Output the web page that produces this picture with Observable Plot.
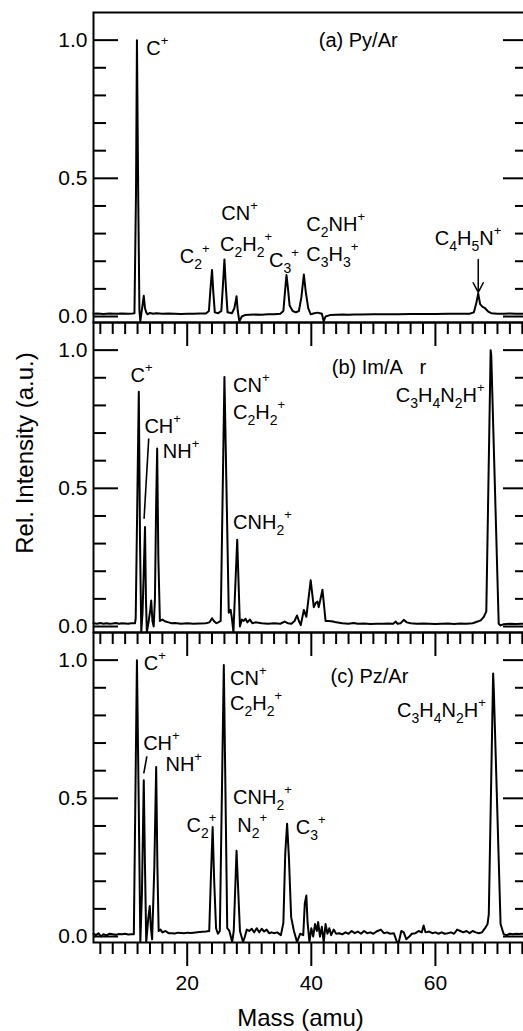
<!DOCTYPE html>
<html><head><meta charset="utf-8">
<script src="https://cdn.jsdelivr.net/npm/d3@7"></script>
<script src="https://cdn.jsdelivr.net/npm/@observablehq/plot@0.6"></script>
<style>
html,body{margin:0;padding:0;background:#fff;overflow:hidden;}
#wrap{position:relative;width:523px;height:1031px;overflow:hidden;font-family:"Liberation Sans",Arial,Helvetica,sans-serif;color:#000;}
.panel{position:absolute;left:0;}
.title{position:absolute;font-size:24px;line-height:24px;color:#000;white-space:nowrap;text-align:center;}
</style></head><body><div id="wrap"></div>
<script>
// ---- data: [mass (amu), relative intensity] ----
const spectrumA = [[4.9,0.010],[5.5,0.011],[6.5,0.009],[7.5,0.011],[8.5,0.010],[9.5,0.011],[10.5,0.010],[11.2,0.011],[11.5,0.012],[11.75,0.45],[11.9,1.00],[12.1,0.45],[12.3,0.02],[12.45,-0.017],[12.6,0.01],[12.8,0.04],[13.0,0.075],[13.2,0.03],[13.4,0.015],[13.6,0.008],[14.0,0.013],[14.5,0.010],[15.0,0.012],[16,0.010],[17,0.011],[18,0.010],[19,0.009],[20,0.010],[21,0.010],[22,0.011],[23,0.011],[23.5,0.02],[23.75,0.10],[24.0,0.168],[24.2,0.09],[24.45,0.015],[25.0,0.012],[25.5,0.02],[25.75,0.11],[26.0,0.206],[26.25,0.10],[26.5,0.015],[27.2,0.012],[27.6,0.03],[27.95,0.073],[28.15,0.02],[28.4,-0.017],[28.8,0.0],[29.3,0.005],[30,0.006],[31,0.007],[32,0.006],[33,0.008],[34,0.008],[35,0.010],[35.5,0.02],[35.8,0.10],[36.0,0.150],[36.2,0.11],[36.5,0.04],[37.0,0.02],[37.5,0.015],[38.0,0.02],[38.4,0.07],[38.8,0.152],[39.1,0.09],[39.5,0.03],[39.9,0.008],[40.5,0.012],[41.0,0.014],[41.4,0.012],[41.7,0.010],[42.0,-0.017],[42.3,0.0],[43,0.005],[44,0.006],[45,0.007],[46,0.006],[47,0.007],[48,0.007],[50,0.008],[52,0.008],[54,0.008],[56,0.009],[58,0.009],[60,0.009],[62,0.010],[64,0.010],[65.5,0.010],[66.2,0.015],[66.6,0.05],[66.9,0.083],[67.2,0.045],[67.6,0.035],[68.0,0.03],[68.5,0.018],[69,0.012],[70,0.010],[71,0.010],[72,0.011],[73,0.010],[74,0.010],[75,0.010]];

const spectrumB = [[4.9,0.012],[5.5,0.010],[6,0.013],[6.5,0.010],[7,0.012],[7.5,0.010],[8,0.011],[8.5,0.013],[9,0.010],[9.5,0.012],[10,0.011],[10.5,0.010],[11,0.012],[11.6,0.012],[11.7,0.03],[12.2,0.849],[12.4,0.30],[12.6,-0.02],[12.8,0.05],[13.0,0.20],[13.2,0.36],[13.35,0.10],[13.5,-0.02],[13.8,0.02],[14.05,0.06],[14.2,0.094],[14.4,0.02],[14.6,0.0],[14.8,0.10],[15.0,0.45],[15.16,0.644],[15.35,0.25],[15.6,0.02],[16.0,0.025],[16.5,0.018],[17,0.015],[17.5,0.012],[18,0.013],[19,0.010],[20,0.012],[21,0.010],[22,0.011],[23,0.012],[23.6,0.015],[24.0,0.03],[24.3,0.02],[24.7,0.012],[25.0,0.015],[25.4,0.02],[26.0,0.903],[26.7,0.05],[27.0,0.06],[27.2,0.03],[27.45,-0.02],[28.06,0.314],[28.5,0.0],[28.8,0.025],[29.1,0.02],[29.4,0.028],[29.7,0.015],[30.1,0.025],[30.5,0.012],[31,0.015],[32,0.012],[33,0.010],[34,0.012],[35,0.010],[35.7,0.018],[36.2,0.012],[36.8,0.010],[37.3,0.02],[37.7,0.04],[38.0,0.02],[38.3,0.005],[38.8,0.06],[39.2,0.035],[39.9,0.167],[40.4,0.07],[40.7,0.085],[41.0,0.09],[41.2,0.07],[41.8,0.133],[42.3,0.02],[42.8,0.02],[43.5,0.018],[44,0.015],[45,0.012],[46,0.010],[46.8,0.013],[47.5,0.010],[48.5,0.011],[49.5,0.009],[50.5,0.010],[51.5,0.010],[52.5,0.011],[53.2,0.010],[53.6,0.018],[53.9,0.010],[54.4,0.012],[54.9,0.024],[55.4,0.015],[56,0.012],[57,0.010],[58,0.011],[59,0.010],[60,0.009],[61,0.010],[62,0.011],[63,0.009],[64,0.011],[65,0.010],[66,0.012],[66.8,0.018],[67.3,0.022],[67.8,0.035],[68.2,0.055],[68.9,1.00],[69.0,0.98],[70.2,0.01],[70.5,0.004],[71,0.008],[72,0.010],[73,0.009],[74,0.010],[75,0.010]];

const spectrumC = [[4.9,0.010],[5.3,0.005],[5.7,0.012],[6.1,0.0],[6.5,0.008],[7.0,0.004],[7.5,0.010],[8,0.008],[8.5,0.006],[9,0.009],[9.5,0.008],[10,0.010],[10.5,0.007],[11,0.008],[11.4,0.008],[11.9,1.00],[12.2,0.46],[12.45,-0.02],[12.7,0.15],[13.0,0.565],[13.2,0.25],[13.4,-0.02],[13.7,0.06],[13.97,0.11],[14.15,0.03],[14.35,-0.01],[14.7,0.25],[15.0,0.613],[15.2,0.25],[15.4,0.02],[15.7,0.025],[16.0,0.015],[16.5,0.02],[17,0.012],[17.5,0.012],[18,0.011],[18.5,0.014],[19,0.013],[19.5,0.012],[20,0.014],[20.5,0.013],[21,0.014],[22,0.016],[23,0.018],[23.55,0.02],[23.8,0.2],[24.1,0.396],[24.35,0.2],[24.65,0.03],[24.95,0.01],[25.26,0.02],[25.9,0.982],[26.45,0.03],[26.8,0.02],[27.25,-0.02],[27.5,0.02],[27.95,0.31],[28.5,0.02],[29.0,-0.02],[29.3,0.0],[29.6,0.025],[30.0,0.02],[30.4,0.028],[30.8,0.015],[31.2,0.03],[31.6,0.015],[32.0,0.028],[32.4,0.018],[32.8,0.025],[33.2,0.012],[33.6,0.015],[34.0,0.012],[34.5,0.015],[35.1,0.005],[35.5,0.05],[35.8,0.30],[36.1,0.408],[36.4,0.28],[36.75,0.07],[37.2,0.02],[37.7,-0.02],[38.2,0.01],[38.7,0.005],[38.95,0.12],[39.2,0.148],[39.4,0.05],[39.7,-0.02],[40.0,0.03],[40.3,0.0],[40.6,0.045],[40.9,0.02],[41.1,0.052],[41.4,0.0],[41.7,0.035],[42.0,-0.02],[42.3,0.045],[42.6,0.01],[42.9,0.03],[43.2,0.005],[43.6,0.025],[44.0,0.01],[44.5,0.012],[45,0.008],[45.5,0.015],[46,0.010],[46.5,0.020],[47,0.012],[47.5,0.018],[48,0.010],[48.5,0.020],[49,0.012],[49.5,0.015],[50,0.010],[50.5,0.018],[51.2,0.025],[51.7,0.012],[52.2,0.015],[52.7,0.010],[53.3,0.012],[53.8,-0.02],[54.1,-0.02],[54.5,0.02],[54.9,0.015],[55.3,-0.01],[55.8,0.0],[56.2,0.010],[56.8,0.012],[57.3,0.020],[57.8,0.015],[58.1,0.040],[58.4,0.015],[59,0.018],[59.5,0.012],[60,0.015],[60.5,0.010],[61,0.015],[61.5,0.010],[62,0.012],[62.5,0.015],[63,0.010],[63.5,0.025],[64,0.020],[64.5,0.015],[65,0.020],[65.5,0.012],[66,0.020],[66.5,0.015],[67,0.012],[67.5,0.015],[68.0,0.03],[68.4,0.045],[68.6,0.08],[69.3,0.952],[69.4,0.90],[70.5,0.045],[71.0,0.008],[71.5,0.005],[72,0.010],[72.5,0.008],[73,0.010],[73.5,0.009],[74,0.010],[75,0.010]];

// ---- annotations: label text ( _x subscript, ^x superscript ), mass, intensity ----
const labelsA = [["C^+",13.4,0.946],["CN^+",25.5,0.35],["C_2H_2^+",25.3,0.236],["C_2^+",18.8,0.195],["C_3^+",33.2,0.18],["C_2NH^+",39.2,0.308],["C_3H_3^+",39.2,0.2],["C_4H_5N^+",59.9,0.26],["(a) Py/Ar",41.2,0.976]];
const labelsB = [["C^+",10.85,0.885],["CH^+",13.1,0.70],["NH^+",16.06,0.61],["CN^+",27.4,0.849],["C_2H_2^+",27.4,0.752],["CNH_2^+",27.4,0.354],["(b) Im/A\u00a0\u00a0\u00a0r",43.3,0.915],["C_3H_4N_2H^+",53.6,0.813]];
const labelsC = [["C^+",13.0,0.964],["CH^+",12.9,0.674],["NH^+",16.5,0.60],["CN^+",26.9,0.909],["C_2H_2^+",26.9,0.82],["CNH_2^+",27.4,0.48],["N_2^+",28.06,0.378],["C_2^+",19.9,0.378],["C_3^+",37.5,0.37],["(c) Pz/Ar",43.1,0.916],["C_3H_4N_2H^+",53.8,0.795]];

// leader lines [mass1, value1, mass2, value2]
const leadersA = [];
const leadersB = [[13.8,0.68,13.05,0.39]];
const leadersC = [[13.5,0.652,13.0,0.59]];
const arrowsA = [[66.9,0.206,66.9,0.087]];

// ---- axis ticks ----
const xMajor = [20,40,60];
const xMinor = [6,8,10,12,14,16,18,22,24,26,28,30,32,34,36,38,42,44,46,48,50,52,54,56,58,62,64,66,68,70,72,74];
const yMajor = [0,0.5,1.0];
const yMinor = [0.1,0.2,0.3,0.4,0.6,0.7,0.8,0.9];
const xDomain = [4.9,75];
const yDomain = [-0.0217,1.1];

const W = 523, ML = 93, MR = -5, MT = 12, MB = 60, PH = 310;
const innerW = W - ML - MR;

function panel(spec, labels, leaders, arrows, showX) {
  const anns = labels.map(([t,m,v]) => ({t,m,v}));
  const lk = leaders.map(([x1,y1,x2,y2]) => ({x1,y1,x2,y2}));
  const ar = arrows.map(([x1,y1,x2,y2]) => ({x1,y1,x2,y2}));
  const marks = [
    Plot.line(spec, {x: d => d[0], y: d => d[1], stroke: "black", strokeWidth: 2}),
    Plot.frame({stroke: "black", strokeWidth: 2}),
    Plot.ruleY(yMinor, {stroke: "black", strokeWidth: 2, insetRight: innerW - 13}),
    Plot.ruleY(yMajor, {stroke: "black", strokeWidth: 2, insetRight: innerW - 25}),
    Plot.ruleY(yMinor, {stroke: "black", strokeWidth: 2, insetLeft: innerW - 13}),
    Plot.ruleY(yMajor, {stroke: "black", strokeWidth: 2, insetLeft: innerW - 25}),
    Plot.ruleX(xMinor, {stroke: "black", strokeWidth: 2, insetTop: PH, insetBottom: -12}),
    Plot.ruleX(xMajor, {stroke: "black", strokeWidth: 2, insetTop: PH, insetBottom: -24}),
    Plot.axisY({ticks: yMajor, tickSize: 0, tickPadding: 6, tickFormat: d3.format(".1f"), label: null, fontSize: 21}),
    Plot.link(lk, {x1: "x1", y1: "y1", x2: "x2", y2: "y2", stroke: "black", strokeWidth: 1.6}),
    Plot.arrow(ar, {x1: "x1", y1: "y1", x2: "x2", y2: "y2", stroke: "black", strokeWidth: 1.5, headLength: 13, headAngle: 55}),
    Plot.text(anns, {x: "m", y: "v", text: "t", textAnchor: "start", lineAnchor: "bottom", fontSize: 20, fill: "black"})
  ];
  if (showX) marks.push(Plot.axisX({ticks: xMajor, tickSize: 0, tickPadding: 33, label: null, fontSize: 21, anchor: "bottom"}));
  const svg = Plot.plot({
    width: W, height: MT + PH + MB,
    marginLeft: ML, marginRight: MR, marginTop: MT, marginBottom: MB,
    x: {domain: xDomain, axis: null},
    y: {domain: yDomain, axis: null},
    style: {background: "transparent", color: "black", fontFamily: '"Liberation Sans",Arial,Helvetica,sans-serif', maxWidth: "none"},
    marks
  });
  richText(svg);
  return svg;
}

function richText(svg) {
  svg.querySelectorAll("text").forEach(t => {
    const s = t.textContent;
    if (!/[_^]/.test(s)) return;
    const segs = [];
    for (let i = 0; i < s.length; i++) {
      const c = s[i];
      if ((c === "_" || c === "^") && i + 1 < s.length) { segs.push({t: s[i+1], k: c}); i++; }
      else if (segs.length && segs[segs.length-1].k === "n") segs[segs.length-1].t += c;
      else segs.push({t: c, k: "n"});
    }
    t.textContent = "";
    let cur = 0;
    for (const g of segs) {
      const off = g.k === "_" ? 6 : g.k === "^" ? -10 : 0;
      const ts = document.createElementNS("http://www.w3.org/2000/svg", "tspan");
      if (off !== cur) ts.setAttribute("dy", off - cur);
      cur = off;
      if (g.k !== "n") ts.setAttribute("font-size", g.k === "_" ? 14 : 13);
      ts.textContent = g.t;
      t.appendChild(ts);
    }
  });
}

const wrap = document.getElementById("wrap");
const defs = [[spectrumA, labelsA, leadersA, arrowsA, false], [spectrumB, labelsB, leadersB, [], false], [spectrumC, labelsC, leadersC, [], true]];
defs.forEach((d, i) => {
  const div = document.createElement("div");
  div.className = "panel";
  div.style.top = (i * PH) + "px";
  div.appendChild(panel(...d));
  wrap.appendChild(div);
});

const xt = document.createElement("div");
xt.className = "title";
xt.textContent = "Mass (amu)";
xt.style.left = (300.5 - 150) + "px"; xt.style.width = "300px"; xt.style.top = "1006px";
wrap.appendChild(xt);

const yt = document.createElement("div");
yt.className = "title";
yt.textContent = "Rel. Intensity (a.u.)";
yt.style.width = "300px"; yt.style.height = "24px";
yt.style.left = (24.7 - 150) + "px"; yt.style.top = (453 - 12) + "px";
yt.style.transform = "rotate(-90deg)";
wrap.appendChild(yt);
</script></body></html>
